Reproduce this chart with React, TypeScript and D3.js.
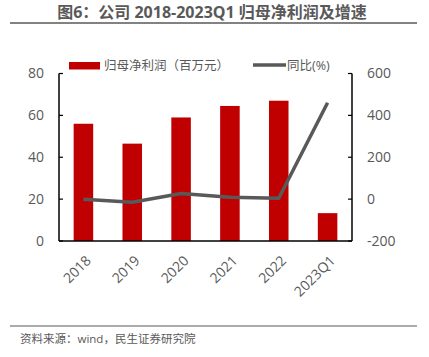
import React from "react";
import * as d3 from "d3";

const categories = ["2018", "2019", "2020", "2021", "2022", "2023Q1"];
const profit = [56, 46.5, 59, 64.5, 67, 13.3];
const yoy = [-1, -15, 27, 9, 4, 460];
const leftTicks = [0, 20, 40, 60, 80];
const rightTicks = [-200, 0, 200, 400, 600];

const W = 429, H = 357;
const m = { left: 59, right: 352, top: 73.5, bottom: 241 };
const FONT = "'Open Sans', 'Noto Sans CJK SC', sans-serif";

export default function App() {
  const x = d3.scaleBand<string>().domain(categories).range([m.left, m.right]).paddingInner(0.6).paddingOuter(0.3);
  const yL = d3.scaleLinear().domain([0, 80]).range([m.bottom, m.top]);
  const yR = d3.scaleLinear().domain([-200, 600]).range([m.bottom, m.top]);
  const cx = (c: string) => (x(c) as number) + x.bandwidth() / 2;
  const line = d3.line<number>().x((_, i) => cx(categories[i])).y((d) => yR(d));
  return (
    <svg width={W} height={H} style={{ position: "absolute", left: 0, top: 0, fontFamily: FONT }}>
      <rect width={W} height={H} fill="#fff" />
      <text x={212} y={18} textAnchor="middle" fontSize={16} fontWeight="bold" fill="#595959">图6：公司 2018-2023Q1 归母净利润及增速</text>
      <line x1={10} x2={417} y1={23} y2={23} stroke="#595959" strokeWidth={1.5} />
      {categories.map((c, i) => (
        <rect key={c} x={x(c)} width={x.bandwidth()} y={yL(profit[i])} height={yL(0) - yL(profit[i])} fill="#C00000" />
      ))}
      <path d={line(yoy) || ""} fill="none" stroke="#595959" strokeWidth={3.5} strokeLinejoin="round" />
      {/* axes */}
      <line x1={m.left} x2={m.left} y1={m.top} y2={m.bottom} stroke="#000" strokeWidth={1.5} />
      <line x1={m.right} x2={m.right} y1={m.top} y2={m.bottom} stroke="#000" strokeWidth={1.5} />
      <line x1={m.left} x2={m.right} y1={m.bottom} y2={m.bottom} stroke="#000" strokeWidth={1.5} />
      {leftTicks.map((t) => (
        <g key={"l" + t}>
          <line x1={m.left} x2={m.left + 4} y1={yL(t)} y2={yL(t)} stroke="#000" strokeWidth={1.2} />
          <text x={44} y={yL(t)} dy="0.35em" textAnchor="end" fontSize={14} fill="#595959">{t}</text>
        </g>
      ))}
      {rightTicks.map((t) => (
        <g key={"r" + t}>
          <line x1={m.right - 4} x2={m.right} y1={yR(t)} y2={yR(t)} stroke="#000" strokeWidth={1.2} />
          <text x={367} y={yR(t)} dy="0.35em" textAnchor="start" fontSize={14} fill="#595959">{t}</text>
        </g>
      ))}
      {categories.map((c) => (
        <text key={"x" + c} transform={`translate(${cx(c) + 5},${m.bottom + 17}) rotate(-45)`} textAnchor="end" dy="0.35em" fontSize={14} fill="#595959">{c}</text>
      ))}
      {/* legend */}
      <rect x={69} y={62} width={31} height={7.5} fill="#C00000" />
      <text x={104} y={66} dy="0.35em" fontSize={12.5} fill="#595959">归母净利润（百万元）</text>
      <line x1={253} x2={286} y1={65} y2={65} stroke="#595959" strokeWidth={3.5} />
      <text x={287} y={66} dy="0.35em" fontSize={12.5} fill="#595959">同比(%)</text>
      {/* footer */}
      <line x1={10} x2={417} y1={326} y2={326} stroke="#595959" strokeWidth={1.2} />
      <text x={20} y={339} dy="0.35em" fontSize={11.5} fill="#595959">资料来源：wind，民生证券研究院</text>
    </svg>
  );
}
